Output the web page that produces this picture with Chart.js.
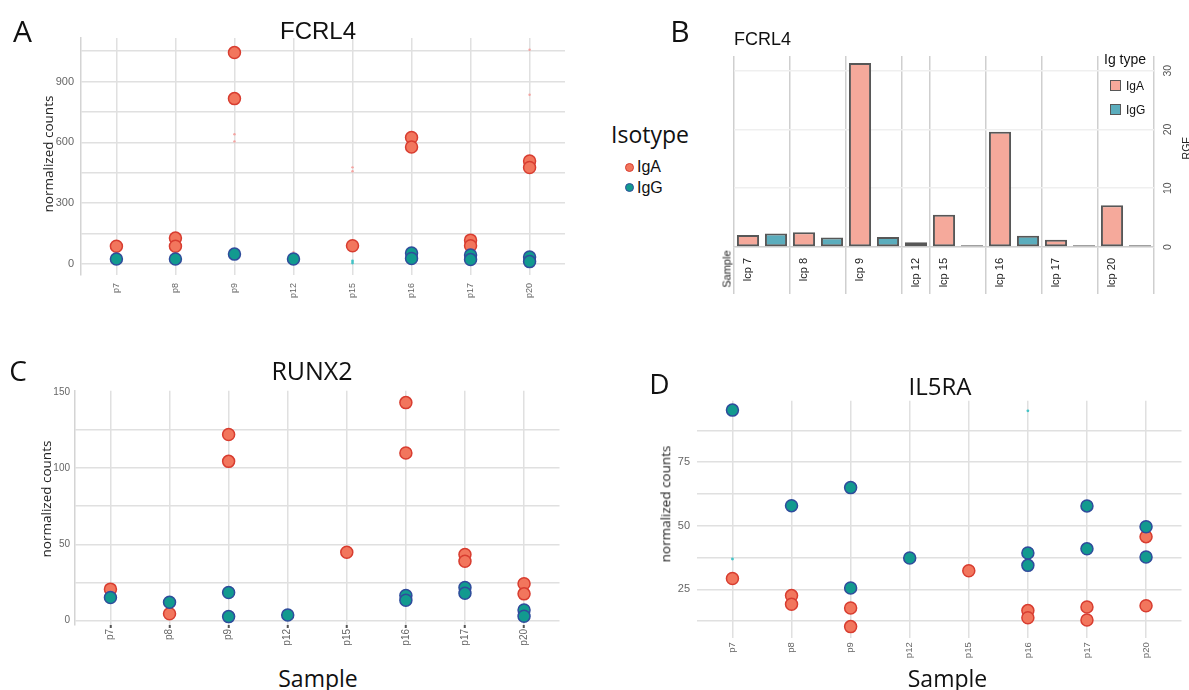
<!DOCTYPE html>
<html lang="en">

<head>
    <meta charset="UTF-8">
    <title>FCRL4 / RUNX2 / IL5RA</title>
    <script src="https://cdn.jsdelivr.net/npm/chart.js"></script>
    <style>
        body { margin: 0; background: #fff; }
        #page { position: relative; width: 1189px; height: 690px; overflow: hidden; background: #fff; }
        canvas { position: absolute; }
        .txt { position: absolute; white-space: nowrap; line-height: 1; color: #111; z-index: 2; }
        .key { position: absolute; box-sizing: border-box; z-index: 2; }
    </style>
</head>

<body>
    <div id="page">
        <canvas id="chartA" width="580" height="310" style="left:0;top:0"></canvas>
        <canvas id="chartB" width="499" height="310" style="left:690px;top:0"></canvas>
        <canvas id="chartC" width="580" height="320" style="left:0;top:340px"></canvas>
        <canvas id="chartD" width="589" height="350" style="left:600px;top:340px"></canvas>
    </div>
    <script>
        // samples on the dot plots (A, C, D)
        const samples = ['p7', 'p8', 'p9', 'p12', 'p15', 'p16', 'p17', 'p20'];

        // A - FCRL4 normalized counts, one list per sample
        const fcrl4IgA = [[88], [128, 88], [1043, 816], [], [90], [624, 577], [118, 90], [508, 476]];
        const fcrl4IgG = [[25], [25], [49], [25], [], [55, 27], [45, 22], [35, 12]];
        const fcrl4StrayIgA = [[], [], [640, 605], [59], [477, 458], [], [], [1057, 835]];
        const fcrl4StrayIgG = [[], [], [], [], [15, 5], [], [], []];

        // B - FCRL4 RGE per lcp sample
        const lcpLabels = ['lcp 7', 'lcp 8', 'lcp 9', 'lcp 12', 'lcp 15', 'lcp 16', 'lcp 17', 'lcp 20'];
        const rgeIgA = [2.05, 2.5, 31.3, 0.8, 5.5, 19.6, 1.25, 7.1];
        const rgeIgG = [2.3, 1.6, 1.7, null, 0.3, 1.9, 0.3, 0.3];

        // C - RUNX2
        const runx2IgA = [[20.7], [4.6], [122, 104.4], [], [44.9], [142.9, 109.9], [43.4, 39], [24.2, 17.6]];
        const runx2IgG = [[15.2], [12.1], [18.5, 2.7], [3.8], [], [16.5, 13.4], [21.8, 18], [7, 2.9]];

        // D - IL5RA
        const il5raIgA = [[29.2], [22.5, 19.1], [17.6, 10.3], [], [32.3], [16.6, 13.8], [18, 12.9], [45.7, 18.5]];
        const il5raIgG = [[95.5], [57.9], [65, 25.5], [37.3], [], [39.3, 34.4], [57.8, 40.9], [49.6, 37.7]];
        const il5raStrayIgG = [[36.9], [], [], [], [], [95.2], [], []];

        Chart.defaults.font.family = "'Liberation Sans', Arial, sans-serif";

        const page = document.getElementById('page');

        function addText(text, x, y, size, opts = {}) {
            const el = document.createElement('div');
            el.className = 'txt';
            el.textContent = text;
            el.style.left = x + 'px';
            el.style.top = y + 'px';
            el.style.fontSize = size + 'px';
            el.style.fontFamily = opts.font || "'Open Sans'";
            if (opts.color) el.style.color = opts.color;
            const shift = opts.left ? 'translate(0,-50%)' : 'translate(-50%,-50%)';
            el.style.transform = shift + (opts.rotate ? ` rotate(${opts.rotate}deg)` : '');
            page.appendChild(el);
        }

        function addKey(x, y, w, h, fill, border, round) {
            const el = document.createElement('div');
            el.className = 'key';
            el.style.left = (x - w / 2) + 'px';
            el.style.top = (y - h / 2) + 'px';
            el.style.width = w + 'px';
            el.style.height = h + 'px';
            el.style.background = fill;
            el.style.border = '1.5px solid ' + border;
            if (round) el.style.borderRadius = '50%';
            page.appendChild(el);
        }

        function dotPoints(lists) {
            const pts = [];
            lists.forEach((vals, i) => vals.forEach(v => pts.push({ x: i, y: v })));
            return pts;
        }

        function dotChart(id, cfg) {
            const datasets = [
                { label: 'IgG', data: dotPoints(cfg.igg), backgroundColor: '#129a8f', borderColor: '#2f4c9c', borderWidth: 1.5, pointRadius: 6, order: 0 },
                { label: 'IgA', data: dotPoints(cfg.iga), backgroundColor: '#f2765d', borderColor: '#d83d30', borderWidth: 1.5, pointRadius: 6, order: 1 }
            ];
            if (cfg.strayIgA) datasets.push({ data: dotPoints(cfg.strayIgA), backgroundColor: '#f4a3a0', borderWidth: 0, pointRadius: 1.2, order: 2 });
            if (cfg.strayIgG) datasets.push({ data: dotPoints(cfg.strayIgG), backgroundColor: '#43c3c6', borderWidth: 0, pointRadius: 1.4, order: 2 });

            return new Chart(document.getElementById(id), {
                type: 'scatter',
                data: { datasets },
                options: {
                    responsive: false,
                    animation: false,
                    devicePixelRatio: 1,
                    events: [],
                    layout: { padding: cfg.padding },
                    plugins: { legend: { display: false }, tooltip: { enabled: false } },
                    scales: {
                        x: {
                            type: 'linear',
                            min: -0.6,
                            max: samples.length - 0.4,
                            afterBuildTicks: s => { s.ticks = samples.map((_, i) => ({ value: i })); },
                            afterFit: s => { s.height = cfg.xHeight; },
                            grid: {
                                color: '#e0e0e0', lineWidth: 1.5,
                                drawTicks: !!cfg.tickMarks, tickLength: 3, tickWidth: 2, tickColor: '#555'
                            },
                            border: { display: false },
                            ticks: {
                                callback: v => samples[v],
                                minRotation: 90, maxRotation: 90, autoSkip: false,
                                padding: cfg.xPad, color: '#666', font: { size: cfg.xFont }
                            }
                        },
                        y: {
                            min: cfg.min,
                            max: cfg.max,
                            afterBuildTicks: s => { s.ticks = cfg.gridAt.map(v => ({ value: v })); },
                            afterFit: s => { s.width = cfg.yWidth; },
                            grid: {
                                color: ctx => (cfg.hideGrid && cfg.hideGrid.includes(ctx.tick && ctx.tick.value)) ? 'rgba(0,0,0,0)' : '#e0e0e0',
                                lineWidth: 1.5, drawTicks: false
                            },
                            border: { display: cfg.yBorder, color: '#d4d4d4', width: 1.5 },
                            ticks: {
                                callback: v => cfg.labelAt.includes(v) ? v : '',
                                padding: cfg.yPad, color: '#666', font: { size: cfg.yFont }
                            }
                        }
                    }
                }
            });
        }

        // ---- A ----
        dotChart('chartA', {
            iga: fcrl4IgA, igg: fcrl4IgG, strayIgA: fcrl4StrayIgA, strayIgG: fcrl4StrayIgG,
            padding: { left: 0, top: 38, right: 15, bottom: 0 },
            xHeight: 35, yWidth: 81,
            min: -54, max: 1115,
            gridAt: [0, 150, 300, 450, 600, 750, 900, 1050],
            labelAt: [0, 300, 600, 900],
            yBorder: true, yPad: 7, yFont: 11, xPad: 8, xFont: 9
        });

        // ---- B ----
        const slotLabels = [], slotIgA = [], slotIgG = [], groupStarts = [];
        lcpLabels.forEach((lab, i) => {
            groupStarts.push(slotLabels.length);
            slotLabels.push(lab); slotIgA.push(rgeIgA[i]); slotIgG.push(null);
            if (rgeIgG[i] !== null) {
                slotLabels.push(''); slotIgA.push(null); slotIgG.push(rgeIgG[i]);
            }
        });
        groupStarts.push(slotLabels.length);

        const sepColor = ctx => (ctx.index === undefined || groupStarts.includes(ctx.index)) ? '#cfcfcf' : 'rgba(0,0,0,0)';

        new Chart(document.getElementById('chartB'), {
            type: 'bar',
            data: {
                labels: slotLabels,
                datasets: [
                    { label: 'IgA', data: slotIgA, backgroundColor: '#f5a99b', borderColor: '#575757', borderWidth: 2, borderSkipped: false, grouped: false, barPercentage: 0.79, categoryPercentage: 1 },
                    { label: 'IgG', data: slotIgG, backgroundColor: '#5badbd', borderColor: '#575757', borderWidth: 2, borderSkipped: false, grouped: false, barPercentage: 0.79, categoryPercentage: 1 }
                ]
            },
            options: {
                responsive: false,
                animation: false,
                devicePixelRatio: 1,
                events: [],
                layout: { padding: { left: 44, top: 56, right: 0, bottom: 0 } },
                plugins: { legend: { display: false }, tooltip: { enabled: false } },
                scales: {
                    x: {
                        afterFit: s => { s.height = 63; },
                        grid: { color: sepColor, tickColor: sepColor, lineWidth: 1.5, tickLength: 47 },
                        border: { display: true, color: '#cfcfcf', width: 1.5 },
                        ticks: { minRotation: 90, maxRotation: 90, autoSkip: false, padding: -36, color: '#222', font: { size: 11 } }
                    },
                    y: {
                        position: 'right',
                        min: 0,
                        max: 32.5,
                        afterBuildTicks: s => { s.ticks = [0, 10, 20, 30].map(v => ({ value: v })); },
                        afterFit: s => { s.width = 35; },
                        grid: { color: '#efefef', lineWidth: 1.5, drawTicks: false },
                        border: { display: false },
                        ticks: { minRotation: 90, maxRotation: 90, crossAlign: 'center', padding: 8, color: '#555', font: { size: 10.5 } }
                    }
                }
            }
        });

        // ---- C ----
        dotChart('chartC', {
            iga: runx2IgA, igg: runx2IgG,
            padding: { left: 0, top: 50.7, right: 20.5, bottom: 0 },
            xHeight: 35, yWidth: 75,
            min: -2.8, max: 150.7,
            gridAt: [0, 25, 50, 75, 100, 125, 150],
            hideGrid: [150],
            labelAt: [0, 50, 100, 150],
            yBorder: true, yPad: 5, yFont: 10, xPad: 1, xFont: 10, tickMarks: true
        });

        // ---- D ----
        dotChart('chartD', {
            iga: il5raIgA, igg: il5raIgG, strayIgG: il5raStrayIgG,
            padding: { left: 0, top: 60.7, right: 5, bottom: 0 },
            xHeight: 51.7, yWidth: 97,
            min: 5.7, max: 99.2,
            gridAt: [12.5, 25, 37.5, 50, 62.5, 75, 87.5],
            labelAt: [25, 50, 75],
            yBorder: false, yPad: 7, yFont: 11, xPad: 4, xFont: 9.5
        });

        // ---- text and legends ----
        const arial = "'Liberation Sans'";
        addText('A', 22.5, 31, 30);
        addText('FCRL4', 318, 31, 24, { font: arial });
        addText('normalized counts', 49, 154, 13.5, { rotate: -90, color: '#222' });
        addText('Isotype', 611, 134, 23, { left: true });
        addKey(629.5, 167, 9, 9, '#f2765d', '#d83d30', true);
        addText('IgA', 637, 167, 16, { font: arial, left: true });
        addKey(629.5, 187.5, 9, 9, '#129a8f', '#2f4c9c', true);
        addText('IgG', 637, 187.5, 16, { font: arial, left: true });

        addText('B', 680, 31, 30);
        addText('FCRL4', 734, 39, 18, { font: arial, left: true });
        addText('Ig type', 1104, 58.5, 14, { font: arial, left: true });
        addKey(1115.5, 85.5, 11, 11, '#f5a99b', '#575757');
        addText('IgA', 1126, 86, 12, { font: arial, left: true });
        addKey(1115.5, 109.5, 11, 11, '#5badbd', '#575757');
        addText('IgG', 1126, 110, 12, { font: arial, left: true });
        addText('Sample', 727, 268.5, 11, { font: arial, rotate: -90, color: '#222' });
        addText('RGE', 1186, 148, 10.5, { font: arial, rotate: -90, color: '#222' });

        addText('C', 18, 369.5, 28);
        addText('RUNX2', 312, 369.5, 25);
        addText('normalized counts', 47, 499, 13.5, { rotate: -90, color: '#222' });
        addText('Sample', 318, 678, 23);

        addText('D', 659.5, 383, 28);
        addText('IL5RA', 940, 386, 24);
        addText('normalized counts', 665.5, 504, 13.5, { rotate: -90, color: '#222' });
        addText('Sample', 947.5, 677.5, 23);
    </script>
</body>

</html>
